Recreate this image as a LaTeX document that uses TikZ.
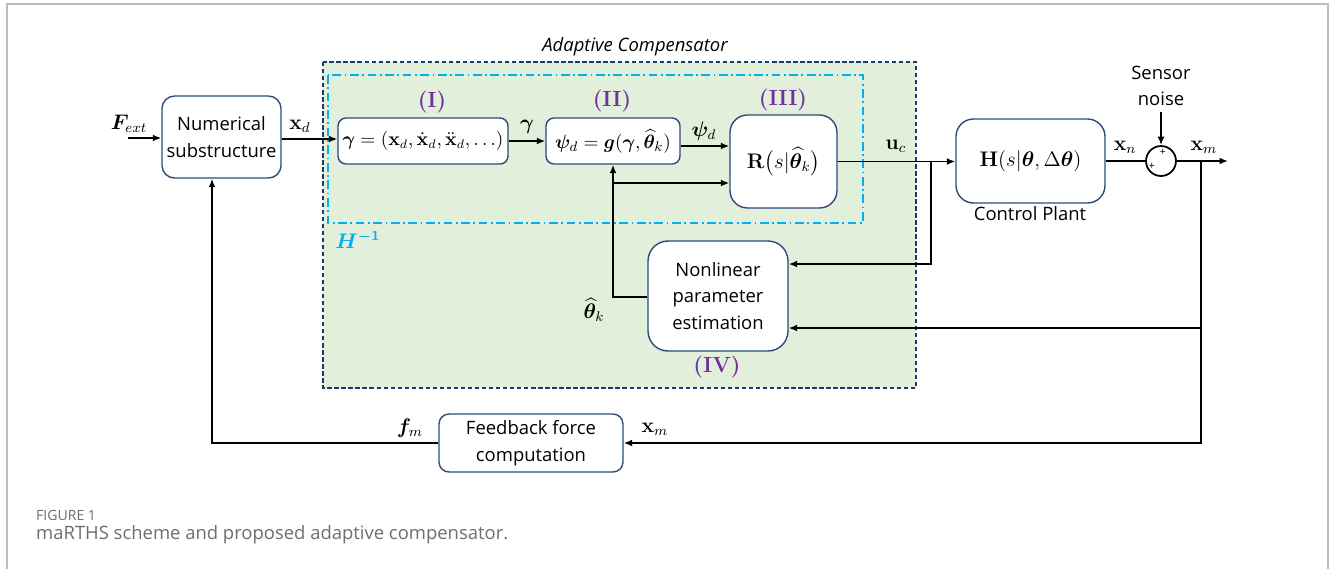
\documentclass[tikz,border=0pt]{standalone}
\usepackage{amsmath,amssymb}
\usepackage{bm}
\usepackage[no-math]{fontspec}
\setmainfont{Open Sans}
\newfontfamily\tagfont{Latin Modern Roman}
\usepackage{xcolor}
\usetikzlibrary{arrows.meta, positioning, shapes.geometric}

\definecolor{boxblue}{HTML}{2F4B7C}
\definecolor{compgreen}{HTML}{E2EFDA}
\definecolor{compnavy}{HTML}{1F3864}
\definecolor{hinvcyan}{HTML}{00B0F0}
\definecolor{stagepurple}{HTML}{7030A0}
\definecolor{capgray}{HTML}{6E6E6E}
\definecolor{framegray}{HTML}{BDBDBD}

\begin{document}
\begin{tikzpicture}[x=0.02cm, y=-0.02cm,
  box/.style={draw=boxblue, line width=0.8pt, rounded corners=0.25cm, fill=white,
              align=center, inner sep=0pt, font=\fontsize{10.5}{15}\selectfont},
  sig/.style={line width=1pt, -{Latex[length=1.7mm, width=1.4mm]}},
  wire/.style={line width=1pt},
  lbl/.style={inner sep=1pt, font=\fontsize{12}{14}\selectfont},
  stage/.style={inner sep=1pt, text=stagepurple, font=\fontsize{12.5}{14}\tagfont\bfseries}
]
\useasboundingbox (0,0) rectangle (1330,569);
\draw[framegray, line width=1pt] (7,569) -- (7,4) -- (1328,4) -- (1328,569);

% adaptive compensator and H^{-1} frames
\draw[compnavy, fill=compgreen, line width=0.8pt, dash pattern=on 2.5pt off 1.5pt]
  (323,62) rectangle (916,388);
\draw[hinvcyan, line width=1.3pt, dash pattern=on 5pt off 2pt on 1pt off 2pt]
  (328,75) rectangle (863,223);
\node[font=\fontsize{10.5}{12}\selectfont\itshape] (acomp) at (635,47) {Adaptive Compensator};
\node[text=hinvcyan, lbl] (hinv) at (358,240) {$\bm{H^{-1}}$};

% blocks
\node[box, minimum width=2.38cm, minimum height=1.64cm] (numsub) at (221.5,137) {Numerical\\substructure};
\node[box, rounded corners=0.16cm, minimum width=3.4cm, minimum height=0.92cm, lbl,
      font=\fontsize{10.5}{12}\selectfont] (gen) at (423,141)
  {$\bm{\gamma}=(\mathbf{x}_d,\dot{\mathbf{x}}_d,\ddot{\mathbf{x}}_d,\ldots)$};
\node[box, rounded corners=0.16cm, minimum width=2.68cm, minimum height=0.92cm, lbl,
      font=\fontsize{11}{12}\selectfont] (gfun) at (613,141)
  {$\bm{\psi}_d=\bm{g}(\bm{\gamma},\widehat{\bm{\theta}}_k)$};
\node[box, rounded corners=0.35cm, minimum width=2.14cm, minimum height=1.86cm, lbl] (rfilt) at (783.5,161.5)
  {$\mathbf{R}\big(s|\widehat{\bm{\theta}}_k\big)$};
\node[box, rounded corners=0.35cm, minimum width=2.98cm, minimum height=1.68cm, lbl] (plant) at (1030.5,161)
  {$\mathbf{H}(s|\bm{\theta},\Delta\bm{\theta})$};
\node[box, rounded corners=0.4cm, minimum width=2.8cm, minimum height=2.2cm] (est) at (718,296)
  {Nonlinear\\parameter\\estimation};
\node[box, rounded corners=0.2cm, minimum width=3.68cm, minimum height=1.16cm] (fbforce) at (531,443)
  {Feedback force\\computation};
\node[draw, circle, line width=1pt, minimum size=0.6cm, inner sep=0pt] (sumj) at (1161,161) {};
\node[font=\fontsize{6}{6}\selectfont, inner sep=0pt] (plusa) at (1163,152) {+};
\node[font=\fontsize{6}{6}\selectfont, inner sep=0pt] (plusb) at (1152,166) {+};

% stage tags
\node[stage] (st1) at (432,102) {(I)};
\node[stage] (st2) at (612,101) {(II)};
\node[stage] (st3) at (783,100) {(III)};
\node[stage] (st4) at (717,367) {(IV)};

% texts beside blocks
\node[font=\fontsize{10.5}{15}\selectfont] (cplant) at (1030,214) {Control Plant};
\node[font=\fontsize{10.5}{15}\selectfont, align=center] (noise) at (1161,86) {Sensor\\noise};

% signal labels
\node[lbl] (lfext) at (129,124) {$\bm{F}_{ext}$};
\node[lbl] (lxd)   at (300,126) {$\mathbf{x}_d$};
\node[lbl] (lgam)  at (527,127) {$\bm{\gamma}$};
\node[lbl] (lpsi)  at (704,131) {$\bm{\psi}_d$};
\node[lbl] (luc)   at (896,146) {$\mathbf{u}_c$};
\node[lbl] (lxn)   at (1125,147) {$\mathbf{x}_n$};
\node[lbl] (lxm)   at (1204,147) {$\mathbf{x}_m$};
\node[lbl] (lth)   at (594,310) {$\widehat{\bm{\theta}}_k$};
\node[lbl] (lfm)   at (410,428) {$\bm{f}_m$};
\node[lbl] (lxmb)  at (655,429) {$\mathbf{x}_m$};

% caption
\node[anchor=west, text=capgray, font=\fontsize{8}{10}\selectfont] (fignum) at (30,515) {FIGURE 1};
\node[anchor=west, text=capgray, font=\fontsize{10.5}{12}\selectfont] (figcap) at (30,535)
  {maRTHS scheme and proposed adaptive compensator.};

% branch points
\coordinate (fin) at (128,138);
\coordinate (ubr) at (931,161.5);
\coordinate (mbr) at (1201,161);
\coordinate (xout) at (1228,161);

% connectors
\draw[sig] (fin) -- (fin -| numsub.west);
\draw[sig] (numsub.east |- 0,139) -- (gen.west |- 0,139);
\draw[sig] (gen) -- (gfun);
\draw[sig] (gfun.east |- 0,146) -- (rfilt.west |- 0,146);
\draw[sig] (rfilt.east) -- (rfilt.east -| plant.west);
\draw[sig] (ubr) |- (est.east |- 0,264);
\draw[wire] (plant.east |- sumj) -- (sumj.west);
\draw[sig] (noise) -- (sumj);
\draw[sig] (sumj) -- (xout);
\draw[sig] (mbr) |- (est.east |- 0,328);
\draw[sig] (mbr) |- (fbforce.east);
\draw[sig] (fbforce.west) -| ([xshift=-0.19cm]numsub.south);
\draw[sig] (est.west |- 0,297) -| (gfun.south);
\draw[sig] (gfun.south |- 0,183) -- (rfilt.west |- 0,183);
\end{tikzpicture}
\end{document}
